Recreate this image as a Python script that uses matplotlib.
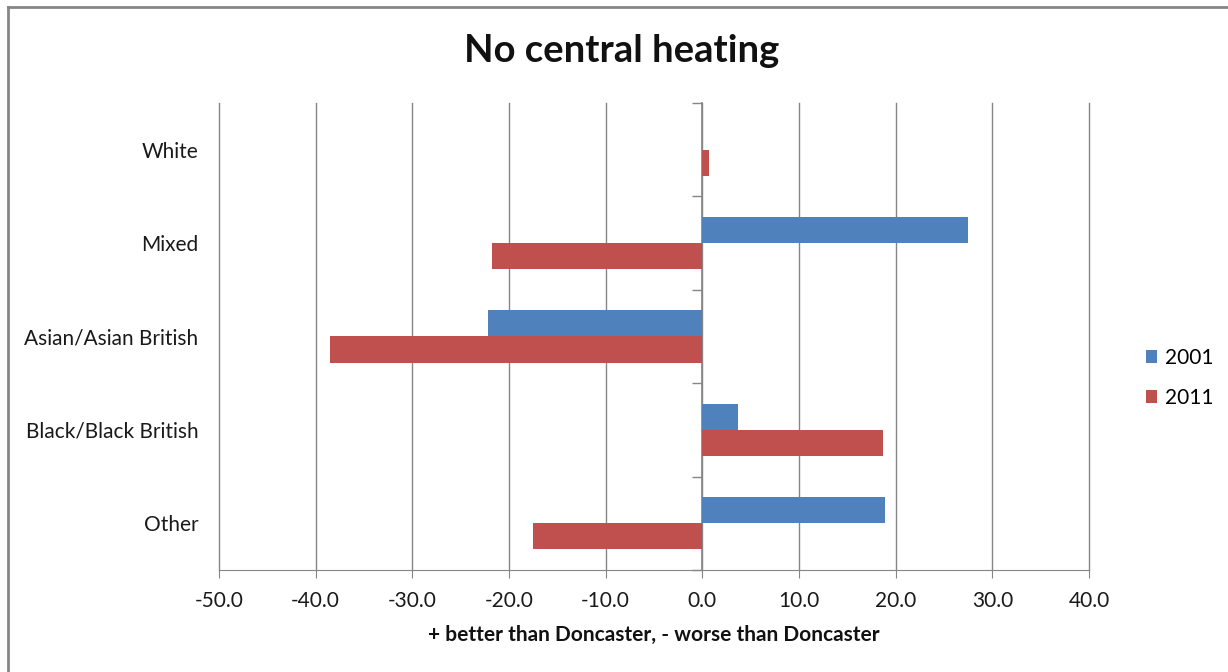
import numpy as np
import matplotlib.pyplot as plt
from matplotlib.patches import Patch
from matplotlib.lines import Line2D

# ── Data ──────────────────────────────────────────────────────────────────────
categories = ["White", "Mixed", "Asian/Asian British", "Black/Black British", "Other"]
vals_2001 = [0.0, 27.5, -22.2, 3.7, 18.9]
vals_2011 = [0.7, -21.8, -38.5, 18.7, -17.5]
xticks = [-50, -40, -30, -20, -10, 0, 10, 20, 30, 40]

BLUE = "#4F81BD"
RED = "#C0504D"
GRID = "#868686"

plt.rcParams["font.family"] = ["Lato", "DejaVu Sans"]

fig = plt.figure(figsize=(12.28, 6.72), dpi=100)
ax = fig.add_axes([219 / 1228, 1 - 570 / 672, (1089 - 219) / 1228, (570 - 103) / 672])

y = np.arange(len(categories))
h = 0.28
ax.barh(y - h / 2, vals_2001, h, color=BLUE, edgecolor="none", label="2001", zorder=3)
ax.barh(y + h / 2, vals_2011, h, color=RED, edgecolor="none", label="2011", zorder=3)

ax.set_xlim(-50, 40)
ax.set_ylim(len(categories) - 0.5, -0.5)
ax.set_xticks(xticks)
ax.set_xticklabels([f"{v:.1f}" for v in xticks], fontsize=15, color="#1a1a1a")
ax.grid(axis="x", color=GRID, linewidth=1.0, zorder=0)
for gl in ax.get_xgridlines():
    gl.set_clip_on(False)

ax.set_yticks(y)
ax.set_yticklabels(categories, fontsize=15, color="#1a1a1a")
ax.tick_params(axis="y", length=0, pad=15)
ax.tick_params(axis="x", length=6, color=GRID, pad=9, direction="out")

for s in ("left", "right", "top"):
    ax.spines[s].set_visible(False)
ax.spines["bottom"].set_color(GRID)

# category axis drawn at x = 0 with ticks at the category boundaries
zero_frac = (0 - (-50)) / 90
sec = ax.secondary_yaxis(zero_frac)
sec.set_yticks(np.arange(len(categories) + 1) - 0.5)
sec.set_yticklabels([])
sec.yaxis.set_ticks_position("left")
sec.tick_params(length=7, color=GRID, width=1.0, direction="out")
for s in sec.spines.values():
    s.set_color(GRID)
    s.set_linewidth(1.2)

ax.set_xlabel("+ better than Doncaster, - worse than Doncaster",
              fontsize=15, fontweight="bold", labelpad=10, color="#111111")

fig.text(622 / 1228, 1 - 51 / 672, "No central heating", ha="center", va="center",
         fontsize=27.5, fontweight="bold", color="#111111")

handles = [Patch(facecolor=BLUE, label="2001"), Patch(facecolor=RED, label="2011")]
fig.legend(handles=handles, loc="center left", bbox_to_anchor=(1127 / 1228, 1 - 378 / 672),
           frameon=False, fontsize=15, handlelength=0.55, handleheight=0.55,
           handletextpad=0.35, labelspacing=0.95)

# outer chart border (left and top edges visible)
fig.add_artist(Line2D([8 / 1228, 8 / 1228], [0, 1 - 7 / 672], transform=fig.transFigure,
                      color="#868686", linewidth=2))
fig.add_artist(Line2D([8 / 1228, 1], [1 - 7 / 672, 1 - 7 / 672], transform=fig.transFigure,
                      color="#868686", linewidth=2))

fig.savefig("out.png", dpi=100)
